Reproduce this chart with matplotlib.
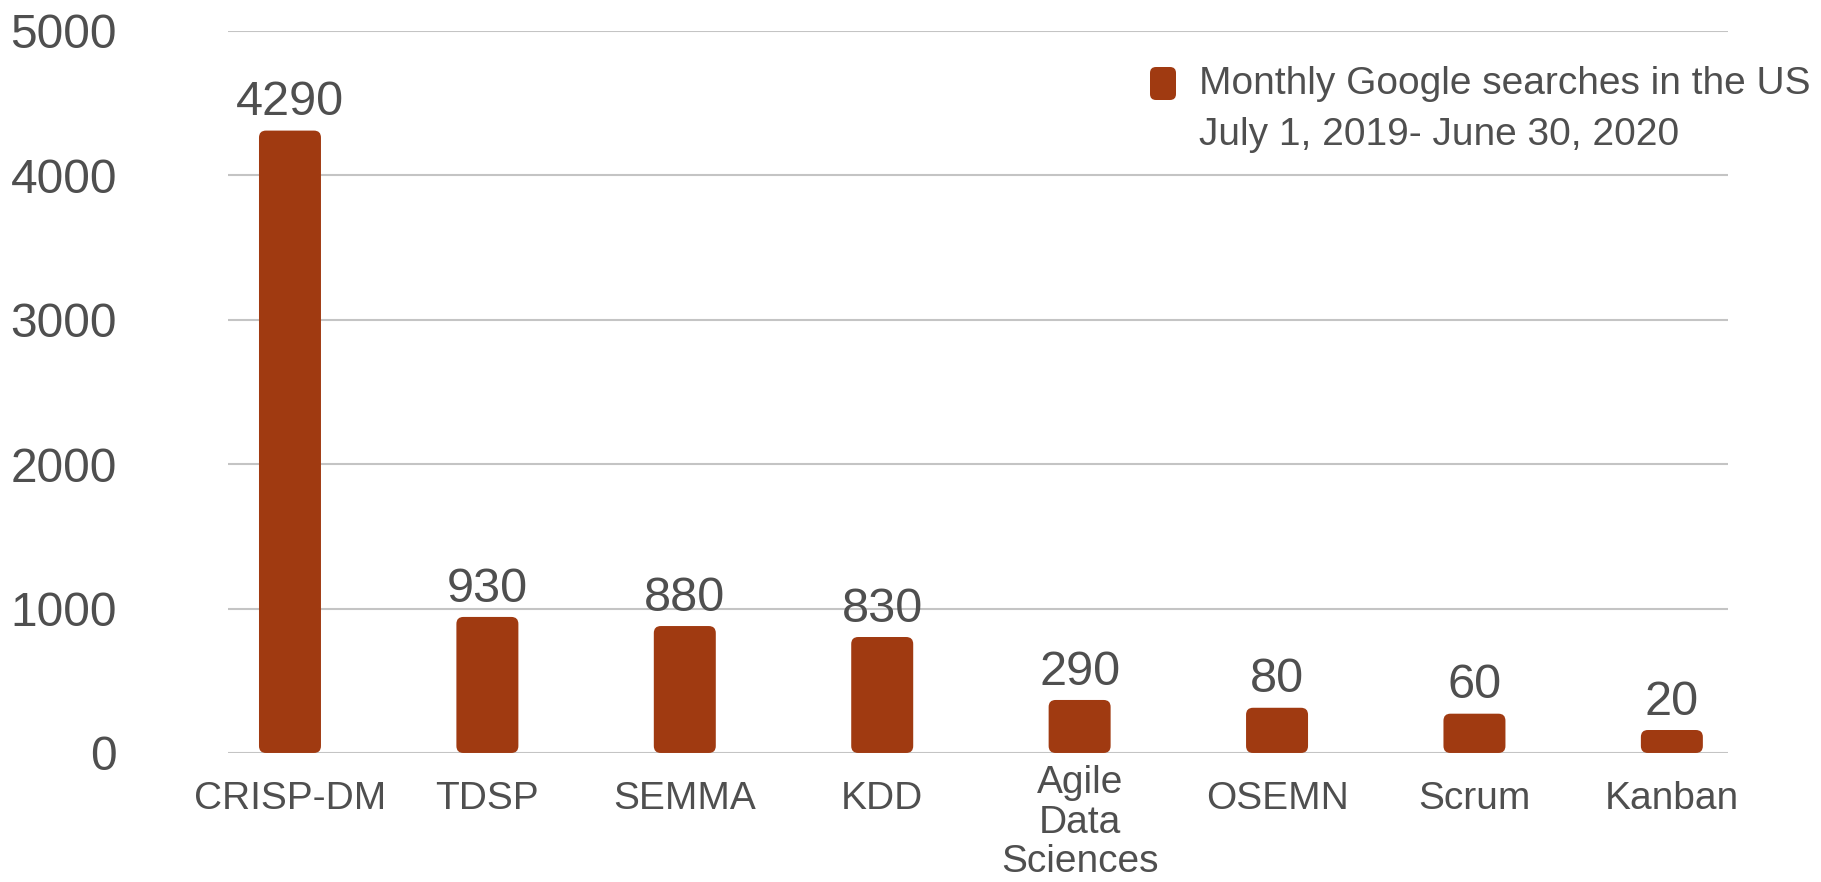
import numpy as np
import matplotlib
matplotlib.use('Agg')
import matplotlib.pyplot as plt
from matplotlib.patches import FancyBboxPatch

plt.rcParams['font.family'] = ['Liberation Sans', 'DejaVu Sans']

# data
categories = ['CRISP-DM', 'TDSP', 'SEMMA', 'KDD', 'Agile\nData\nSciences', 'OSEMN', 'Scrum', 'Kanban']
bar_heights = [4310, 942, 879, 803, 367, 313, 272, 159]
value_labels = ['4290', '930', '880', '830', '290', '80', '60', '20']
yticks = [0, 1000, 2000, 3000, 4000, 5000]
legend_lines = ['Monthly Google searches in the US', 'July 1, 2019- June 30, 2020']

barcolor = '#A03A11'
textcolor = '#4F4F4F'
gridcolor = '#C4C4C4'

fig = plt.figure(figsize=(18.21, 8.82), dpi=100)
ax = fig.add_axes([0.1252, 0.1463, 0.949 - 0.1252, 0.9649 - 0.1463])

xpos = np.arange(len(categories))
ax.set_xlim(-0.314, 7.285)
ax.set_ylim(0, 5000)

# gridlines
for t in yticks:
    ax.axhline(t, color=gridcolor, lw=1.5, zorder=0)

for s in ax.spines.values():
    s.set_visible(False)

ax.set_yticks(yticks)
ax.set_yticklabels([str(t) for t in yticks])
ax.tick_params(axis='y', length=0, pad=80, labelsize=34.5, labelcolor=textcolor)
ax.set_xticks([])

# rounded bars
bars = ax.bar(xpos, bar_heights, width=0.314, color=barcolor)
p0 = ax.transData.transform((0, 0))
p1 = ax.transData.transform((1, 1))
aspect = (p1[0] - p0[0]) / (p1[1] - p0[1])
rad = 7 / (p1[0] - p0[0])
for b in bars:
    b.set_visible(False)
    fb = FancyBboxPatch((b.get_x(), b.get_y()), b.get_width(), b.get_height(),
                        boxstyle='round,pad=0,rounding_size=%f' % rad,
                        mutation_aspect=aspect, facecolor=barcolor,
                        edgecolor='none', zorder=3)
    ax.add_patch(fb)

# value labels
for x, h, lab in zip(xpos, bar_heights, value_labels):
    ax.annotate(lab, xy=(x, h), xytext=(0, 11), textcoords='offset points',
                ha='center', va='baseline', fontsize=35, color=textcolor)

# category labels
for x, lab in zip(xpos, categories):
    nlines = lab.count('\n') + 1
    pad = 20 if nlines == 1 else 9
    ax.annotate(lab, xy=(x, 0), xycoords=('data', 'axes fraction'),
                xytext=(0, -pad), textcoords='offset points',
                ha='center', va='top', fontsize=28, color=textcolor,
                linespacing=1.12)

# legend
marker = FancyBboxPatch((11.50, 7.82), 0.26, 0.33,
                        boxstyle='round,pad=0,rounding_size=0.06',
                        transform=fig.dpi_scale_trans, facecolor=barcolor,
                        edgecolor='none')
fig.patches.append(marker)
fig.text(1199 / 1821, 1 - 94 / 882, legend_lines[0], fontsize=28,
         color=textcolor, va='baseline', ha='left')
fig.text(1199 / 1821, 1 - 145 / 882, legend_lines[1], fontsize=28,
         color=textcolor, va='baseline', ha='left')

fig.savefig('out.png', dpi=100)
